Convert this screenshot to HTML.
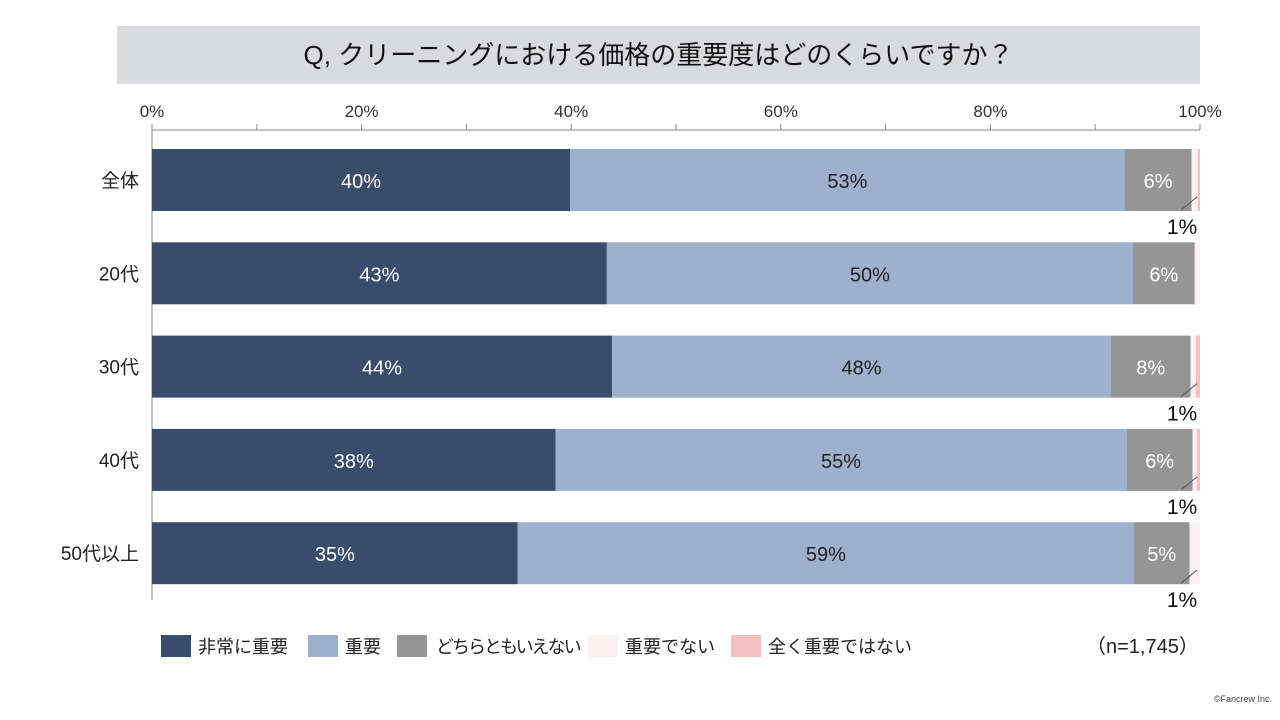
<!DOCTYPE html>
<html><head><meta charset="utf-8"><style>
body{margin:0;width:1280px;height:720px;background:#fff;font-family:"Liberation Sans","Noto Sans CJK JP",sans-serif;position:relative;overflow:hidden}
#title{position:absolute;left:117px;top:26px;width:1083px;height:58px;background:#d9dadd;text-align:center;line-height:58px;font-size:26px;color:#111}
.leg{position:absolute;top:633px;font-size:18px;color:#222;display:flex;align-items:center;white-space:nowrap}
.leg i{display:inline-block;width:30px;height:22px;margin-right:7px}
</style></head><body>
<div id="title">Q, クリーニングにおける価格の重要度はどのくらいですか？</div>
<svg id="chart" width="1280" height="720" style="position:absolute;left:0;top:0"></svg>
<div class="leg" style="left:161px"><i style="background:#384d6c"></i>非常に重要</div>
<div class="leg" style="left:308px"><i style="background:#9db0cc"></i>重要</div>
<div class="leg" style="left:397px;letter-spacing:-2px"><i style="background:#959595;margin-right:9px"></i>どちらともいえない</div>
<div class="leg" style="left:588px"><i style="background:#fdf0f0"></i>重要でない</div>
<div class="leg" style="left:731px"><i style="background:#f5c0c0"></i>全く重要ではない</div>
<div style="position:absolute;left:1086px;top:630px;font-size:20px;color:#222">（n=1,745）</div>
<div style="position:absolute;right:8px;top:694px;font-size:9px;color:#444">©Fancrew Inc.</div>
<script>
const categories=["全体","20代","30代","40代","50代以上"];
const veryImportant=[39.9,43.4,43.9,38.5,34.9];
const important=[52.9,50.2,47.6,54.5,58.8];
const neutral=[6.4,5.9,7.6,6.3,5.3];
const notImportant=[0.6,0.5,0.5,0.4,1.0];
const notAtAll=[0.2,0.0,0.4,0.3,0.0];
const labelsVery=["40%","43%","44%","38%","35%"];
const labelsImp=["53%","50%","48%","55%","59%"];
const labelsNeu=["6%","6%","8%","6%","5%"];
const labelsSmall=["1%","","1%","1%","1%"];
const ticks=[0,20,40,60,80,100];
const NS="http://www.w3.org/2000/svg";
const svg=document.getElementById('chart');
const x=v=>152+v*10.48;
const yc=i=>180+i*93.3;
function el(t,a){const e=document.createElementNS(NS,t);for(const k in a)e.setAttribute(k,a[k]);svg.appendChild(e);return e;}
let ax=el('line',{x1:152,y1:130,x2:1200,y2:130,stroke:'#888'});

let ay=el('line',{x1:152,y1:130,x2:152,y2:600,stroke:'#888'});

for(let t=0;t<=100;t+=10){let l=el('line',{x1:x(t),y1:124,x2:x(t),y2:130,stroke:'#888'});}
ticks.forEach(t=>{let tx=el('text',{x:x(t),y:117,'text-anchor':'middle','font-size':17,fill:'#333'});tx.textContent=t+'%';});
const series=[[veryImportant,'#384d6c',labelsVery,'#fff'],[important,'#9db0cc',labelsImp,'#222'],[neutral,'#959595',labelsNeu,'#fff'],[notImportant,'#fdf0f0',null],[notAtAll,'#f5c0c0',null]];
categories.forEach((c,i)=>{
 let cl=el('text',{x:139,y:yc(i)+7,'text-anchor':'end','font-size':19,fill:'#222'});cl.textContent=c;
 
 let acc=0;
 series.forEach((s,k)=>{
  const v=s[0][i];
  let r=el('rect',{x:x(acc),y:yc(i)-31,width:Math.max(0,x(acc+v)-x(acc)),height:62,fill:s[1]});
  
  if(s[2]){let t=el('text',{x:(x(acc)+x(acc+v))/2,y:yc(i)+8,'text-anchor':'middle','font-size':20,fill:s[3]});t.textContent=s[2][i];
   }
  acc+=v;
 });
 if(labelsSmall[i]){
  let ln=el('line',{x1:1197,y1:yc(i)+17,x2:1181,y2:yc(i)+30,stroke:'#555'});
  
  let t=el('text',{x:1182,y:yc(i)+54,'text-anchor':'middle','font-size':21,fill:'#111'});t.textContent=labelsSmall[i];
  
 }
});
</script>
</body></html>
